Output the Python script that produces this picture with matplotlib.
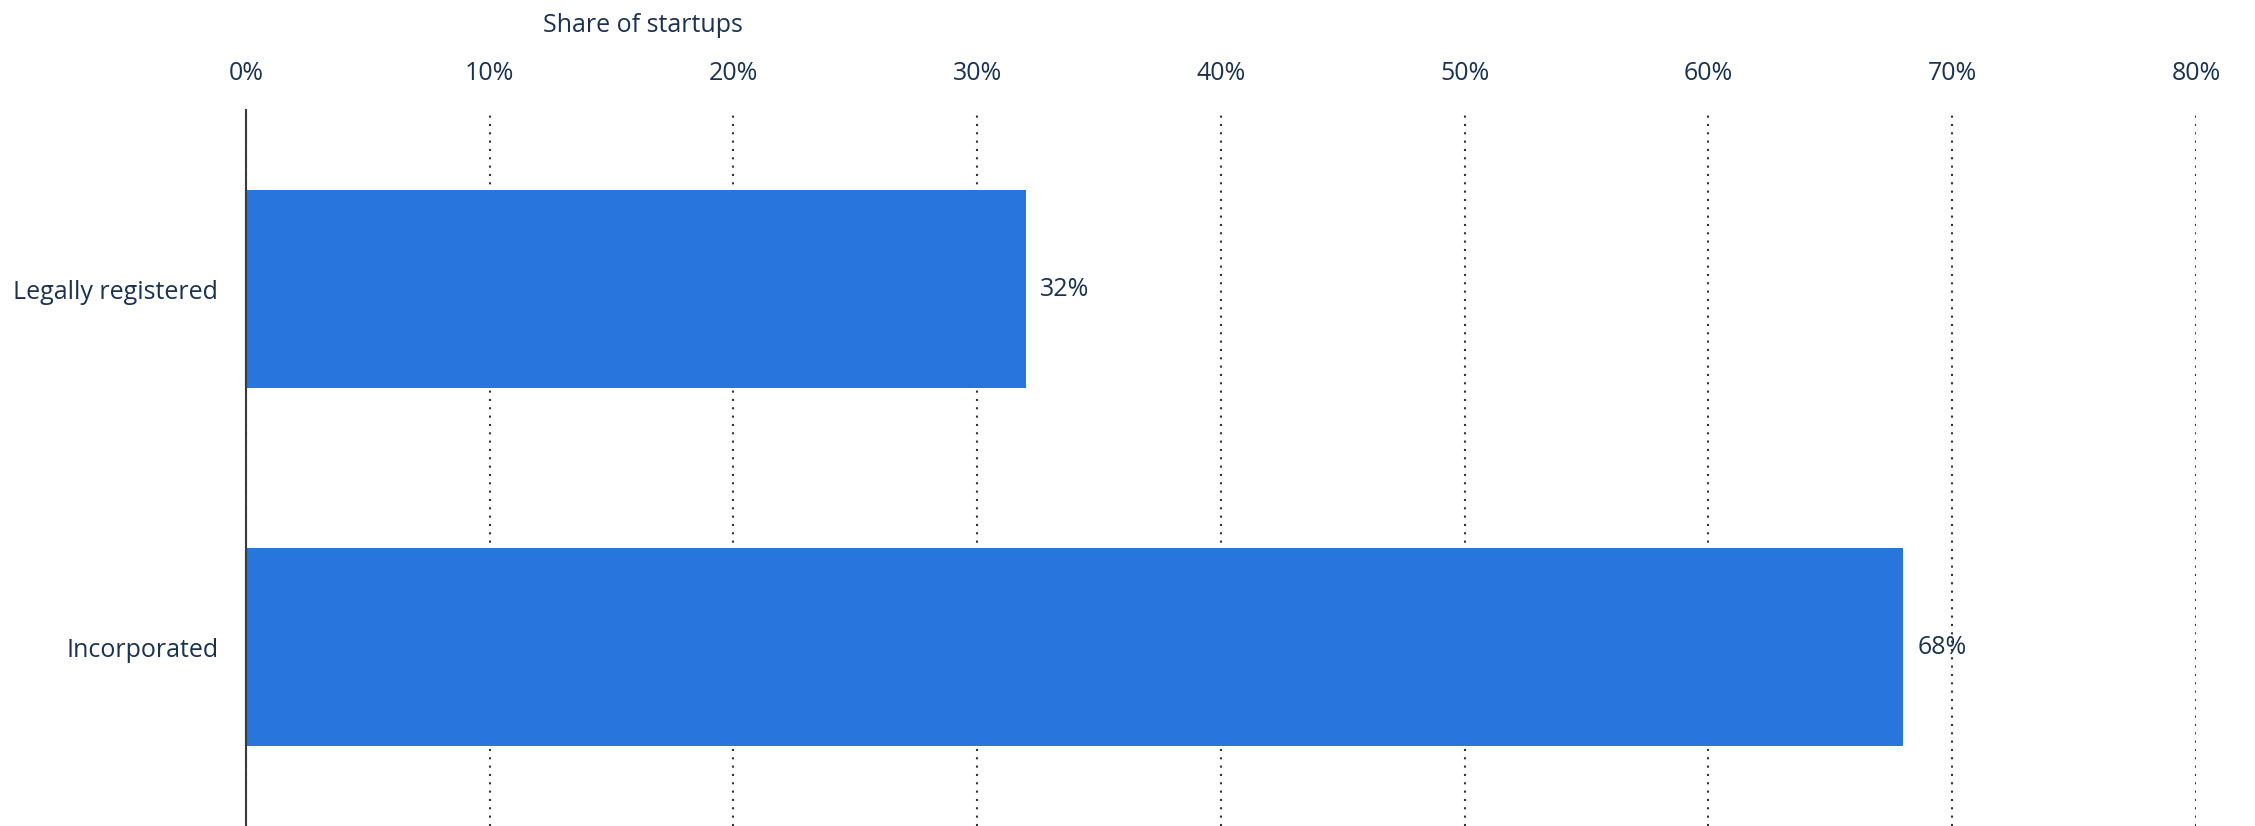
import numpy as np
import matplotlib.pyplot as plt
from matplotlib.ticker import FuncFormatter

categories = ["Legally registered", "Incorporated"]
shares = [32, 68]
x_ticks = [0, 10, 20, 30, 40, 50, 60, 70, 80]

BAR_COLOR = "#2876dd"
TEXT_COLOR = "#1b3350"
FONT_SIZE = 18

plt.rcParams['font.family'] = ['Open Sans', 'DejaVu Sans']

fig = plt.figure(figsize=(22.55, 8.26), dpi=100)
ax = fig.add_axes([0.1091, 0.0, 0.8647, 0.8668])

y = np.arange(len(categories))
bars = ax.barh(y, shares, height=0.552, color=BAR_COLOR, zorder=3)

# value labels just past the end of each bar
for rect, val in zip(bars, shares):
    ax.annotate(f"{val}%", xy=(rect.get_width(), rect.get_y() + rect.get_height() / 2),
                xytext=(10, 0), textcoords="offset points",
                ha="left", va="center", fontsize=FONT_SIZE, color=TEXT_COLOR)

ax.set_ylim(1.5, -0.5)
ax.set_yticks(y, labels=categories)
ax.set_xlim(0, 80)
ax.set_xticks(x_ticks)
ax.xaxis.set_major_formatter(FuncFormatter(lambda v, _: f"{v:.0f}%"))
ax.xaxis.tick_top()

ax.tick_params(axis="x", length=0, pad=17, labelsize=FONT_SIZE, labelcolor=TEXT_COLOR)
ax.tick_params(axis="y", length=0, pad=20, labelsize=FONT_SIZE, labelcolor=TEXT_COLOR)

ax.grid(axis="x", color="#333333", linewidth=1.5, linestyle=(0, (1, 3)), zorder=1)
ax.grid(axis="y", visible=False)

for side in ["top", "right", "bottom"]:
    ax.spines[side].set_visible(False)
ax.spines["left"].set_color("#3a3a3a")
ax.spines["left"].set_linewidth(1.5)
ax.spines["left"].set_zorder(4)

fig.text(643 / 2255, 1 - 25 / 826, "Share of startups", ha="center", va="center",
         fontsize=FONT_SIZE, color=TEXT_COLOR)

fig.savefig("out.png", dpi=100)
